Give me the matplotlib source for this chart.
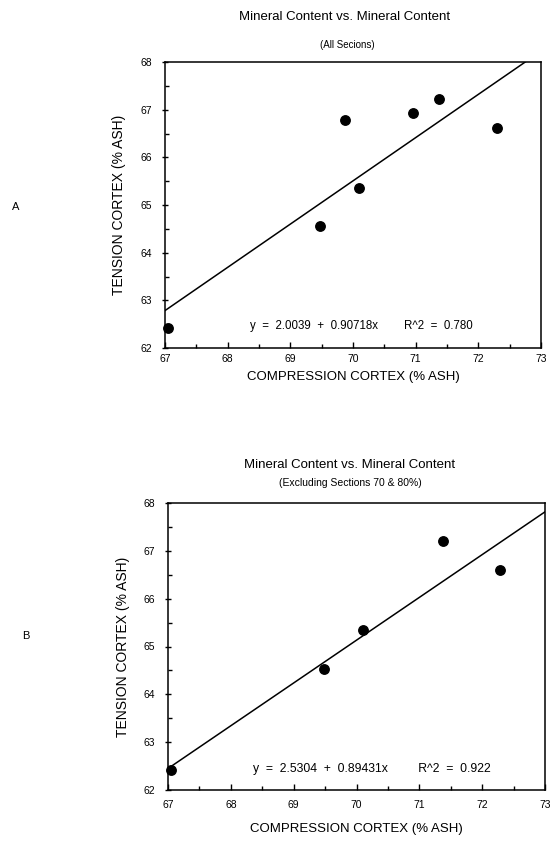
import matplotlib
matplotlib.use("Agg")
import matplotlib.pyplot as plt
import numpy as np

plt.rcParams['font.family'] = ['Liberation Sans', 'DejaVu Sans']

# Panel A (all sections)
xa = [67.05, 69.48, 69.87, 70.10, 70.96, 71.37, 72.29]
ya = [62.42, 64.55, 66.79, 65.36, 66.94, 67.22, 66.61]
fit_a = (2.0039, 0.90718)
eq_a = "y  =  2.0039  +  0.90718x        R^2  =  0.780"

# Panel B (excluding sections 70 & 80%)
xb = [67.05, 69.48, 70.10, 71.37, 72.29]
yb = [62.42, 64.53, 65.35, 67.20, 66.60]
fit_b = (2.5304, 0.89431)
eq_b = "y  =  2.5304  +  0.89431x         R^2  =  0.922"

xticks = [67, 68, 69, 70, 71, 72, 73]
yticks = [62, 63, 64, 65, 66, 67, 68]

W, H = 554, 851
fig = plt.figure(figsize=(W / 100, H / 100), dpi=100)

def px_axes(l, t, r, b):
    return fig.add_axes([l / W, 1 - b / H, (r - l) / W, (b - t) / H])

def draw(ax, x, y, fit, eq, eqx, eqy, eqfs, ylab_x, xlab_y, xpad):
    ax.set_xlim(67, 73)
    ax.set_ylim(62, 68)
    xl = np.array([67, 73])
    ax.plot(xl, fit[0] + fit[1] * xl, color='black', lw=1.1, clip_on=True)
    ax.plot(x, y, 'o', color='black', ms=6.8, clip_on=False, zorder=5)
    ax.set_xticks(xticks)
    ax.set_xticklabels([str(v) for v in xticks])
    ax.set_yticks(yticks)
    ax.set_yticklabels([str(v) for v in yticks])
    ax.set_xticks(np.arange(67.5, 73, 1), minor=True)
    ax.set_yticks(np.arange(62.5, 68, 1), minor=True)
    ax.tick_params(axis='y', which='major', direction='inout', length=5,
                   width=1, labelsize=7.5, pad=7)
    ax.tick_params(axis='x', which='major', direction='in', length=4,
                   width=1, labelsize=7.5, pad=xpad)
    ax.tick_params(axis='both', which='minor', direction='in', length=3, width=1)
    for s in ax.spines.values():
        s.set_linewidth(1.1)
    ax.set_xlabel("COMPRESSION CORTEX (% ASH)", fontsize=9.5)
    ax.set_ylabel("TENSION CORTEX (% ASH)", fontsize=10)
    ax.yaxis.set_label_coords(ylab_x, 0.5)
    ax.xaxis.set_label_coords(0.5, xlab_y)
    ax.text(eqx, eqy, eq, fontsize=eqfs, ha='center', va='center',
            transform=ax.transData)

axA = px_axes(165, 62, 541, 348)
draw(axA, xa, ya, fit_a, eq_a, 70.14, 62.46, 8.3,
     (126 - 165) / 376, (348 - 371) / 286, 4)
axB = px_axes(168, 503, 545, 790)
draw(axB, xb, yb, fit_b, eq_b, 70.25, 62.44, 8.8,
     (130 - 168) / 377, (790 - 823) / 287, 7)

fig.text(345 / W, 1 - 17 / H, "Mineral Content vs. Mineral Content",
         fontsize=9.5, ha='center', va='center')
fig.text(347 / W, 1 - 45 / H, "(All Secions)", fontsize=7,
         ha='center', va='center')
fig.text(350 / W, 1 - 465 / H, "Mineral Content vs. Mineral Content",
         fontsize=9.5, ha='center', va='center')
fig.text(350 / W, 1 - 483 / H, "(Excluding Sections 70 & 80%)", fontsize=7.5,
         ha='center', va='center')

fig.text(16 / W, 1 - 207 / H, "A", fontsize=8, ha='center', va='center')
fig.text(26 / W, 1 - 636 / H, "B", fontsize=8, ha='center', va='center')

fig.savefig("out.png", dpi=100, facecolor='white')
